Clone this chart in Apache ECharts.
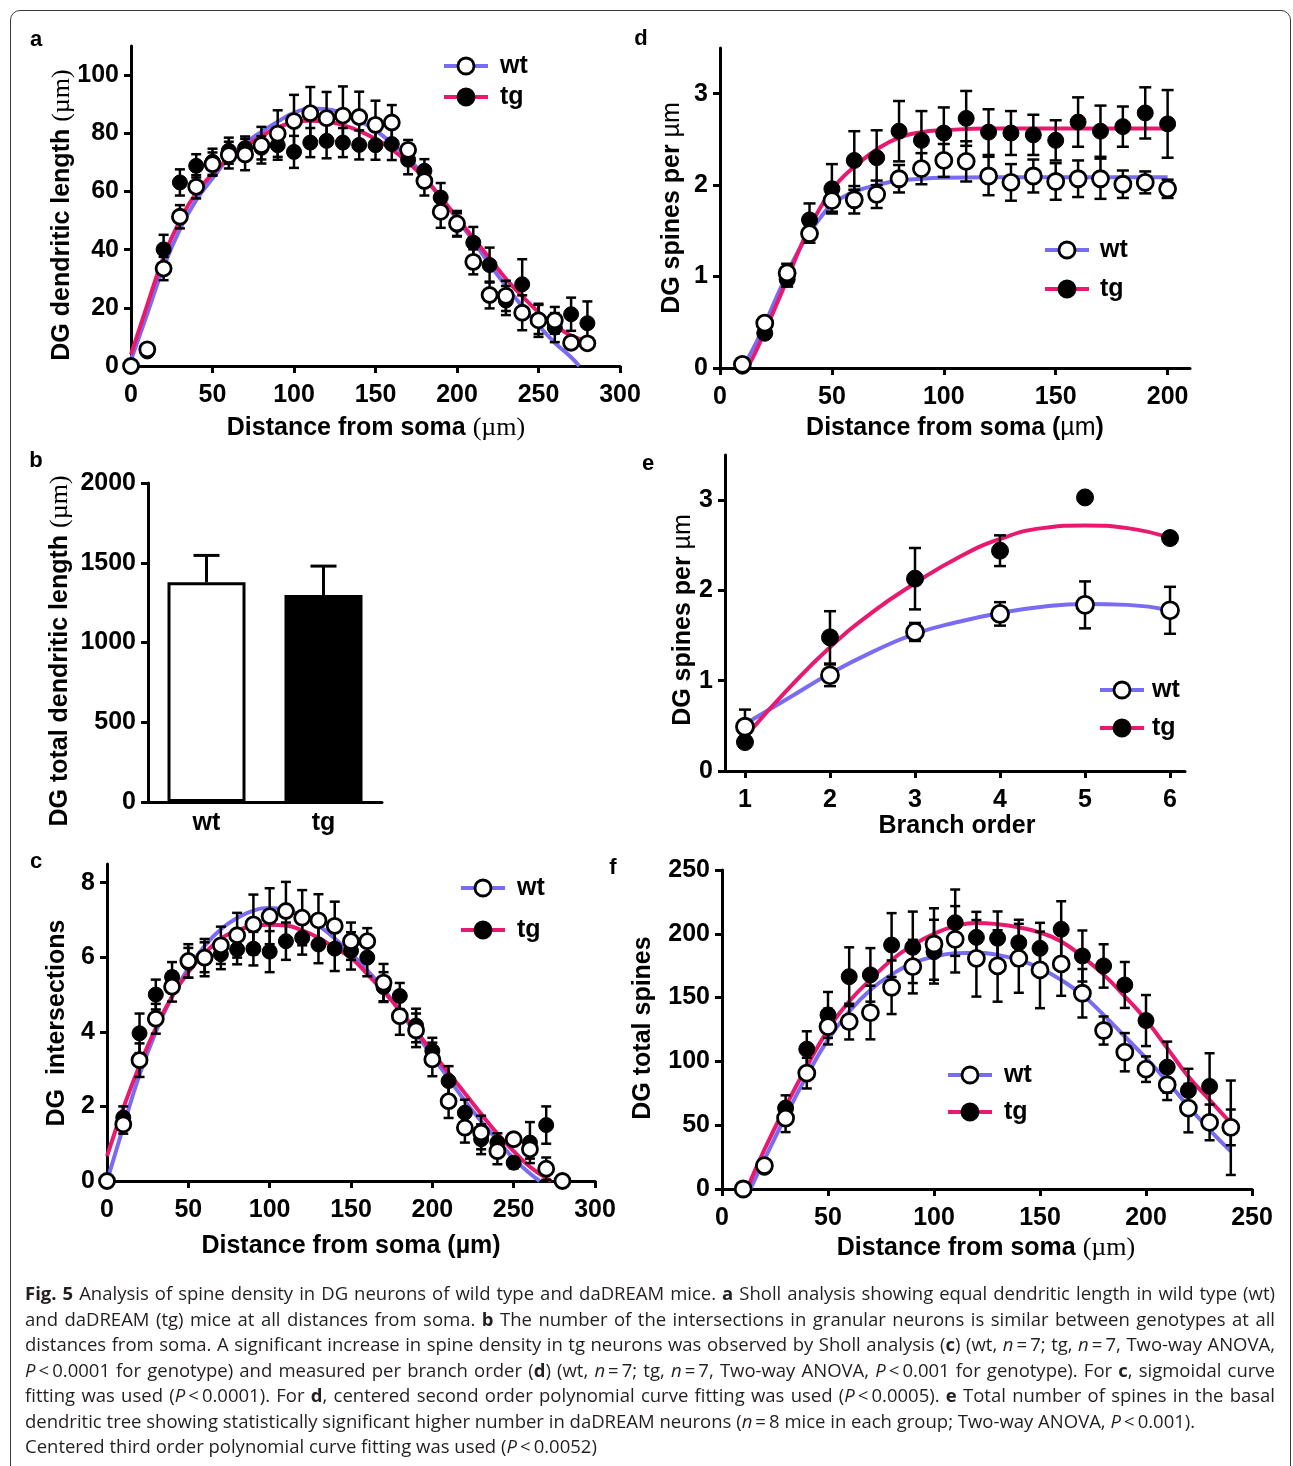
<!DOCTYPE html>
<html>
<head>
<meta charset="utf-8">
<script src="https://cdn.jsdelivr.net/npm/echarts@6/dist/echarts.min.js"></script>
<style>
html,body{margin:0;padding:0;background:#fff;}
#wrap{position:relative;width:1293px;height:1466px;overflow:hidden;background:#fff;}
#chart{position:absolute;left:0;top:0;width:1293px;height:1466px;}
#frame{position:absolute;left:10px;top:10px;width:1281px;height:1520px;box-sizing:border-box;border:1.5px solid #3a3a3a;border-radius:10px;pointer-events:none;}
#caption{position:absolute;left:25px;top:1280px;width:1250px;font-family:'Open Sans',sans-serif;font-size:18.5px;line-height:25.5px;color:#231f20;}
#caption div{white-space:nowrap;}
#caption .j{text-align:justify;text-align-last:justify;}
#caption b{font-weight:700;}
</style>
</head>
<body>
<div id="wrap">
<div id="chart"></div>
<div id="frame"></div>
<div id="caption">
<div class="j"><b>Fig. 5</b> Analysis of spine density in DG neurons of wild type and daDREAM mice. <b>a</b> Sholl analysis showing equal dendritic length in wild type (wt)</div>
<div class="j">and daDREAM (tg) mice at all distances from soma. <b>b</b> The number of the intersections in granular neurons is similar between genotypes at all</div>
<div class="j">distances from soma. A significant increase in spine density in tg neurons was observed by Sholl analysis (<b>c</b>) (wt, <i>n</i>&#8201;=&#8201;7; tg, <i>n</i>&#8201;=&#8201;7, Two-way ANOVA,</div>
<div class="j"><i>P</i>&#8201;&lt;&#8201;0.0001 for genotype) and measured per branch order (<b>d</b>) (wt, <i>n</i>&#8201;=&#8201;7; tg, <i>n</i>&#8201;=&#8201;7, Two-way ANOVA, <i>P</i>&#8201;&lt;&#8201;0.001 for genotype). For <b>c</b>, sigmoidal curve</div>
<div class="j">fitting was used (<i>P</i>&#8201;&lt;&#8201;0.0001). For <b>d</b>, centered second order polynomial curve fitting was used (<i>P</i>&#8201;&lt;&#8201;0.0005). <b>e</b> Total number of spines in the basal</div>
<div>dendritic tree showing statistically significant higher number in daDREAM neurons (<i>n</i>&#8201;=&#8201;8 mice in each group; Two-way ANOVA, <i>P</i>&#8201;&lt;&#8201;0.001).</div>
<div>Centered third order polynomial curve fitting was used (<i>P</i>&#8201;&lt;&#8201;0.0052)</div>
</div>
</div>
<script>
// ---------- Panel a: dendritic length (Sholl) ----------
const aX      = [0,10,20,30,40,50,60,70,80,90,100,110,120,130,140,150,160,170,180,190,200,210,220,230,240,250,260,270,280];
const aWt     = [0,5.7,33.5,51.3,61.6,69.4,72.5,72.7,75.9,79.9,84.2,86.9,85.2,86.1,85.6,82.9,83.7,74.3,63.6,53,49,35.8,24.4,24.1,18.3,15.7,15.7,8,7.8];
const aWtErr  = [0,1,4,4,4,4,4.6,5.4,6.3,8,9,9,9,10,8.7,8.3,6,3.4,5,5.5,4.3,4.3,4.6,5.2,6,5.7,4.6,1.5,1.5];
const aTg     = [0,5,40.1,63.1,68.8,70.2,74,74.9,75,75.9,73.6,76.8,77.4,76.8,76,75.9,76.3,70.9,67.1,57.9,48.5,42.4,34.7,22.5,28.1,16,13.2,17.8,14.7];
const aTgErr  = [0,1,5,4.5,4,4.5,4.5,4,4,5,5.5,5,6,5,5,5,5.5,5,4,5,4,5.4,6,5,8.6,5,5,5.7,7.5];
const aFitWtX = [0,10,20,30,40,50,60,70,80,90,100,110,120,130,140,150,160,170,180,190,200,210,220,230,240,250,260,270,275];
const aFitWt  = [2,18,34,47,57,64.5,71.5,76.5,80.5,84,87,88.5,88.3,86.8,84.3,81,76.5,71.5,65,58,50.5,43,35,27.5,20.5,14,8,3,0];
const aFitTgX = [0,10,20,30,40,50,60,70,80,90,100,110,120,130,140,150,160,170,180,190,200,210,220,230,240,250,260,270,280];
const aFitTg  = [4,21,37.5,50,59.5,66,71.5,75.5,79,82,83.8,84.3,84,82.8,80.8,78,74.5,70,64.5,58,51,44,37,30,24,18.5,14,10.5,8.5];
const aXTicks = [0,50,100,150,200,250,300];
const aYTicks = [0,20,40,60,80,100];

// ---------- Panel d: spines per um vs distance ----------
const dX      = [10,20,30,40,50,60,70,80,90,100,110,120,130,140,150,160,170,180,190,200];
const dWt     = [0.04,0.49,1.04,1.47,1.83,1.84,1.90,2.07,2.18,2.27,2.26,2.10,2.03,2.10,2.04,2.07,2.07,2.01,2.03,1.96];
const dWtErr  = [0.02,0.05,0.1,0.1,0.12,0.15,0.15,0.15,0.17,0.18,0.22,0.21,0.2,0.18,0.2,0.2,0.22,0.15,0.12,0.1];
const dTg     = [0.02,0.38,0.97,1.62,1.96,2.27,2.30,2.59,2.49,2.57,2.73,2.58,2.57,2.55,2.49,2.69,2.59,2.64,2.79,2.67];
const dTgErr  = [0.02,0.04,0.08,0.18,0.27,0.32,0.3,0.33,0.32,0.28,0.3,0.25,0.24,0.22,0.22,0.27,0.28,0.22,0.28,0.37];
const dFitWtX = [10,15,20,25,30,35,40,45,50,55,60,70,80,90,100,120,150,200];
const dFitWt  = [0,0.22,0.48,0.76,1.03,1.28,1.48,1.65,1.79,1.87,1.93,2.0,2.05,2.07,2.08,2.085,2.085,2.085];
const dFitTgX = [12,15,20,25,30,35,40,45,50,55,60,70,80,90,100,120,150,200];
const dFitTg  = [0,0.13,0.40,0.68,0.97,1.27,1.54,1.76,1.95,2.09,2.2,2.39,2.52,2.58,2.6,2.62,2.62,2.62];
const dXTicks = [0,50,100,150,200];
const dYTicks = [0,1,2,3];

// ---------- Panel b: total dendritic length ----------
const bCats   = ['wt','tg'];
const bMean   = [1378,1298];
const bErr    = [168,181];
const bYTicks = [0,500,1000,1500,2000];

// ---------- Panel e: spines per um vs branch order ----------
const eX      = [1,2,3,4,5,6];
const eWt     = [0.49,1.06,1.54,1.74,1.84,1.78];
const eWtErr  = [0.19,0.12,0.1,0.13,0.26,0.26];
const eTg     = [0.32,1.48,2.13,2.44,3.03,2.58];
const eTgErr  = [0.05,0.29,0.34,0.17,0,0];
const eFitX   = [1,1.5,2,2.5,3,3.5,4,4.5,5,5.5,6];
const eFitWt  = [0.52,0.8,1.08,1.32,1.52,1.65,1.75,1.82,1.85,1.84,1.78];
const eFitTg  = [0.375,0.9,1.37,1.76,2.08,2.36,2.57,2.69,2.72,2.69,2.58];
const eXTicks = [1,2,3,4,5,6];
const eYTicks = [0,1,2,3];

// ---------- Panel c: intersections ----------
const cX      = [0,10,20,30,40,50,60,70,80,90,100,110,120,130,140,150,160,170,180,190,200,210,220,230,240,250,260,270,280];
const cWt     = [0,1.52,3.24,4.35,5.21,5.9,5.99,6.32,6.59,6.88,7.1,7.24,7.06,6.99,6.84,6.43,6.43,5.32,4.42,4.04,3.26,2.14,1.43,1.3,0.8,1.12,0.85,0.33,0];
const cWtErr  = [0,0.25,0.45,0.4,0.4,0.45,0.5,0.5,0.6,0.8,0.75,0.78,0.74,0.7,0.65,0.5,0.35,0.5,0.5,0.45,0.45,0.45,0.4,0.45,0.35,0.15,0.25,0.3,0];
const cTg     = [0,1.7,3.96,5.0,5.47,5.85,6.0,6.08,6.21,6.23,6.15,6.43,6.52,6.34,6.23,6.17,5.99,5.2,4.96,4.17,3.49,2.68,1.83,1.12,1.03,0.49,1.03,1.5,null];
const cTgErr  = [0,0.3,0.53,0.4,0.4,0.4,0.4,0.4,0.4,0.45,0.55,0.5,0.45,0.5,0.6,0.5,0.5,0.4,0.35,0.45,0.35,0.4,0.35,0.4,0.25,0.15,0.55,0.5,null];
const cFitWtX = [0,10,20,30,40,50,60,70,80,90,100,110,120,130,140,150,160,170,180,190,200,210,220,230,240,250,260,266];
const cFitWt  = [0,1.45,2.85,4.0,4.95,5.7,6.3,6.75,7.05,7.25,7.32,7.28,7.1,6.85,6.5,6.1,5.65,5.15,4.55,3.95,3.35,2.75,2.15,1.6,1.1,0.6,0.2,0];
const cFitTgX = [0,10,20,30,40,50,60,70,80,90,100,110,120,130,140,150,160,170,180,190,200,210,220,230,240,250,260,270,273];
const cFitTg  = [0.67,1.95,3.1,4.1,4.95,5.6,6.1,6.5,6.72,6.84,6.87,6.85,6.72,6.52,6.25,5.98,5.55,5.08,4.58,4.03,3.45,2.9,2.35,1.8,1.27,0.8,0.38,0.08,0];
const cXTicks = [0,50,100,150,200,250,300];
const cYTicks = [0,2,4,6,8];

// ---------- Panel f: total spines ----------
const fX      = [10,20,30,40,50,60,70,80,90,100,110,120,130,140,150,160,170,180,190,200,210,220,230,240];
const fWt     = [0,18.3,55.6,90.8,127.3,131.2,138.3,158.1,174.3,192,195.7,180.8,174.8,180.8,171.7,176.4,153.4,124.2,107.2,93.9,81.7,63.4,52.2,48.3];
const fWtErr  = [0,3,11,12,14,14,21,21,21,28,26,30,28,27,30,25,19,11,15,10,12,19,14,14];
const fTg     = [0,17,63.4,109.6,136.4,166.4,167.8,191.2,189.4,186,208.7,197.2,196.5,193,188.6,203.5,182.6,174.8,159.9,132,95.5,77.2,80.4,48];
const fTgErr  = [0,0,10,14,18,23,21,25,28,25,26,20,21,18,20,22,20,17,18,20,20,17,26,37];
const fFitWtX = [13.4,20,30,40,50,60,70,80,90,100,110,120,130,140,150,160,170,180,190,200,210,220,230,240];
const fFitWt  = [0,23,57,88.7,117,139,156,168,177,182,184.7,185.2,183.4,179.5,173,163.8,152,136.4,119.5,102.5,84.3,64.7,46.4,29.5];
const fFitTgX = [11.8,20,30,40,50,60,70,80,90,100,110,120,130,140,150,160,170,180,190,200,210,220,230,240];
const fFitTg  = [0,30.8,64.7,96,124.7,147,164,179.5,191,200,206,208.5,207.5,205,201,194,182,168,151,132.5,110.4,88.2,69.9,51.7];
const fXTicks = [0,50,100,150,200,250];
const fYTicks = [0,50,100,150,200,250];

// ---------- helpers ----------
const FONT = "'Liberation Sans', Arial, Helvetica, sans-serif";
const SERIF = "'Liberation Serif', 'Times New Roman', serif";
const BLUE = '#7a6cf2';
const PINK = '#e8196f';
const TICK_FS = 25;

function pairs(xs, ys){ const o=[]; for(let i=0;i<xs.length;i++){ if(ys[i]!=null) o.push([xs[i], ys[i]]); } return o; }
function triples(xs, ys, es){ const o=[]; for(let i=0;i<xs.length;i++){ if(ys[i]!=null) o.push([xs[i], ys[i], es[i]]); } return o; }

function axisCommon(ticks, margin){
  return {
    axisLine:{show:true, onZero:false, lineStyle:{color:'#000', width:3}},
    axisTick:{show:true, inside:false, length:7, lineStyle:{color:'#000', width:3}, customValues:ticks},
    axisLabel:{show:true, customValues:ticks, color:'#000', fontSize:TICK_FS, fontWeight:'bold', fontFamily:FONT, margin:margin,
               formatter:function(v){ return String(v); }},
    splitLine:{show:false}
  };
}
function xVal(g, min, max, ticks){ return Object.assign({type:'value', gridIndex:g, min:min, max:max}, axisCommon(ticks, 17)); }
function yVal(g, min, max, ticks){ return Object.assign({type:'value', gridIndex:g, min:min, max:max}, axisCommon(ticks, 12)); }

function errRender(cap){
  return function(params, api){
    const x = api.value(0), y = api.value(1), e = api.value(2);
    if (!e) return null;
    const t = api.coord([x, y + e]);
    const b = api.coord([x, y - e]);
    const st = {stroke:'#000', lineWidth:2.5};
    return {type:'group', children:[
      {type:'line', shape:{x1:t[0], y1:t[1], x2:b[0], y2:b[1]}, style:st},
      {type:'line', shape:{x1:t[0]-cap, y1:t[1], x2:t[0]+cap, y2:t[1]}, style:st},
      {type:'line', shape:{x1:b[0]-cap, y1:b[1], x2:b[0]+cap, y2:b[1]}, style:st}
    ]};
  };
}

function panelSeries(g, xs, wt, wtE, tg, tgE, fwx, fw, ftx, ft, cap, size){
  return [
    {type:'line', name:'wt fit', xAxisIndex:g, yAxisIndex:g, data:pairs(fwx, fw), smooth:0.5,
     showSymbol:false, symbol:'none', clip:false, silent:true, z:1, lineStyle:{color:BLUE, width:4}},
    {type:'line', name:'tg fit', xAxisIndex:g, yAxisIndex:g, data:pairs(ftx, ft), smooth:0.5,
     showSymbol:false, symbol:'none', clip:false, silent:true, z:2, lineStyle:{color:PINK, width:4}},
    {type:'custom', name:'tg err', xAxisIndex:g, yAxisIndex:g, data:triples(xs, tg, tgE), renderItem:errRender(cap),
     encode:{x:0, y:1}, clip:false, silent:true, z:3},
    {type:'scatter', name:'tg', xAxisIndex:g, yAxisIndex:g, data:pairs(xs, tg), symbol:'circle', symbolSize:size,
     clip:false, silent:true, z:4, itemStyle:{color:'#000', borderColor:'#000', borderWidth:1, opacity:1}},
    {type:'custom', name:'wt err', xAxisIndex:g, yAxisIndex:g, data:triples(xs, wt, wtE), renderItem:errRender(cap),
     encode:{x:0, y:1}, clip:false, silent:true, z:5},
    {type:'scatter', name:'wt', xAxisIndex:g, yAxisIndex:g, data:pairs(xs, wt), symbol:'circle', symbolSize:size,
     clip:false, silent:true, z:6, itemStyle:{color:'#fff', borderColor:'#000', borderWidth:2.8, opacity:1}}
  ];
}

// ---------- graphic text: panel letters, axis titles, legends ----------
const rich = {
  b:{fontFamily:FONT, fontWeight:'bold', fontSize:25, fill:'#000'},
  s:{fontFamily:SERIF, fontWeight:'normal', fontSize:26, fill:'#000'},
  t:{fontFamily:FONT, fontWeight:'normal', fontSize:25, fill:'#000'}
};
function title(x, y, text, rot){
  return {type:'text', x:x, y:y, rotation: rot ? Math.PI/2 : 0, silent:true,
    style:{text:text, rich:rich, fontFamily:FONT, fontWeight:'bold', fontSize:25, fill:'#000', align:'center', verticalAlign:'middle'}};
}
function letter(x, y, t){
  return {type:'text', x:x, y:y, silent:true, style:{text:t, fontFamily:FONT, fontWeight:'bold', fontSize:22, fill:'#000', align:'center', verticalAlign:'middle'}};
}
function legendItem(cx, cy, label, color, filled, tx){
  return {type:'group', silent:true, children:[
    {type:'line', shape:{x1:cx-22, y1:cy, x2:cx+22, y2:cy}, style:{stroke:color, lineWidth:4}},
    {type:'circle', shape:{cx:cx, cy:cy, r:8}, style:{fill: filled ? '#000' : '#fff', stroke:'#000', lineWidth:2.8}},
    {type:'text', x:tx, y:cy, style:{text:label, fontFamily:FONT, fontWeight:'bold', fontSize:25, fill:'#000', align:'left', verticalAlign:'middle'}}
  ]};
}
function legendPair(cx, cyWt, cyTg, tx){
  return [legendItem(cx, cyWt, 'wt', BLUE, false, tx), legendItem(cx, cyTg, 'tg', PINK, true, tx)];
}

const graphics = [
  letter(36, 40, 'a'), letter(641, 39, 'd'), letter(36, 461, 'b'), letter(648, 464, 'e'), letter(36, 862, 'c'), letter(613, 868, 'f'),
  title(62, 215, '{b|DG dendritic length }{s|(µm)}', true),
  title(376, 428, '{b|Distance from soma }{s|(µm)}', false),
  title(672, 208, '{b|DG spines per }{t|µm}', true),
  title(955, 428, '{b|Distance from soma (}{t|µm}{b|)}', false),
  title(60, 651, '{b|DG total dendritic length }{s|(µm)}', true),
  title(683, 620, '{b|DG spines per }{t|µm}', true),
  title(957, 826, 'Branch order', false),
  title(57, 1023, 'DG  intersections', true),
  title(351, 1246, 'Distance from soma (µm)', false),
  title(643, 1028, 'DG total spines', true),
  title(986, 1248, '{b|Distance from soma }{s|(µm)}', false)
].concat(
  legendPair(466, 66, 97, 500),
  legendPair(1067, 250, 289, 1100),
  legendPair(1122, 690, 728, 1152),
  legendPair(483, 888, 930, 517),
  legendPair(970, 1075, 1112, 1004)
);

// ---------- option ----------
const grids = [
  {left:131, top:46,  width:489, height:320},   // a
  {left:720, top:48,  width:470, height:320},   // d
  {left:148, top:483, width:234, height:319},   // b
  {left:725, top:455, width:460, height:316},   // e
  {left:107, top:864, width:488, height:317},   // c
  {left:722, top:870, width:530, height:319}    // f
].map(g => Object.assign({outerBoundsMode:'none', containLabel:false}, g));

const xAxes = [
  xVal(0, 0, 300, aXTicks),
  xVal(1, 0, 210, dXTicks),
  Object.assign({type:'category', gridIndex:2, data:bCats},
    axisCommon(null, 9), {axisTick:{show:false}}),
  xVal(3, 0.765, 6.176, eXTicks),
  xVal(4, 0, 300, cXTicks),
  xVal(5, 0, 250, fXTicks)
];
delete xAxes[2].axisLabel.customValues;
delete xAxes[2].axisLabel.formatter;
const yAxes = [
  yVal(0, 0, 110, aYTicks),
  yVal(1, 0, 3.5, dYTicks),
  yVal(2, 0, 2000, bYTicks),
  yVal(3, 0, 3.5, eYTicks),
  yVal(4, 0, 8.5, cYTicks),
  yVal(5, 0, 250, fYTicks)
];

let series = [];
series = series.concat(panelSeries(0, aX, aWt, aWtErr, aTg, aTgErr, aFitWtX, aFitWt, aFitTgX, aFitTg, 5, 15));
series = series.concat(panelSeries(1, dX, dWt, dWtErr, dTg, dTgErr, dFitWtX, dFitWt, dFitTgX, dFitTg, 6, 16));
series = series.concat(panelSeries(3, eX, eWt, eWtErr, eTg, eTgErr, eFitX, eFitWt, eFitX, eFitTg, 6, 17));
series = series.concat(panelSeries(4, cX, cWt, cWtErr, cTg, cTgErr, cFitWtX, cFitWt, cFitTgX, cFitTg, 5, 15));
series = series.concat(panelSeries(5, fX, fWt, fWtErr, fTg, fTgErr, fFitWtX, fFitWt, fFitTgX, fFitTg, 5, 16));

// panel b bars + upward error bars
series.push({
  type:'bar', xAxisIndex:2, yAxisIndex:2, barWidth:78, silent:true, z:2,
  data: bMean.map((v, i) => ({value:v, itemStyle: i === 0
      ? {color:'#fff', borderColor:'#000', borderWidth:3}
      : {color:'#000', borderColor:'#000', borderWidth:3}}))
});
series.push({
  type:'custom', xAxisIndex:2, yAxisIndex:2, silent:true, z:3, clip:false,
  data: bCats.map((c, i) => [i, bMean[i], bErr[i]]),
  encode:{x:0, y:1},
  renderItem: function(params, api){
    const i = api.value(0), m = api.value(1), e = api.value(2);
    const b = api.coord([i, m]);
    const t = api.coord([i, m + e]);
    const st = {stroke:'#000', lineWidth:3};
    return {type:'group', children:[
      {type:'line', shape:{x1:b[0], y1:b[1], x2:t[0], y2:t[1]}, style:st},
      {type:'line', shape:{x1:t[0]-13, y1:t[1], x2:t[0]+13, y2:t[1]}, style:st}
    ]};
  }
});

const chart = echarts.init(document.getElementById('chart'), null, {renderer:'canvas', width:1293, height:1466});
chart.setOption({
  animation:false,
  backgroundColor:'transparent',
  textStyle:{fontFamily:FONT},
  grid:grids, xAxis:xAxes, yAxis:yAxes, series:series, graphic:graphics
});
</script>
</body>
</html>
